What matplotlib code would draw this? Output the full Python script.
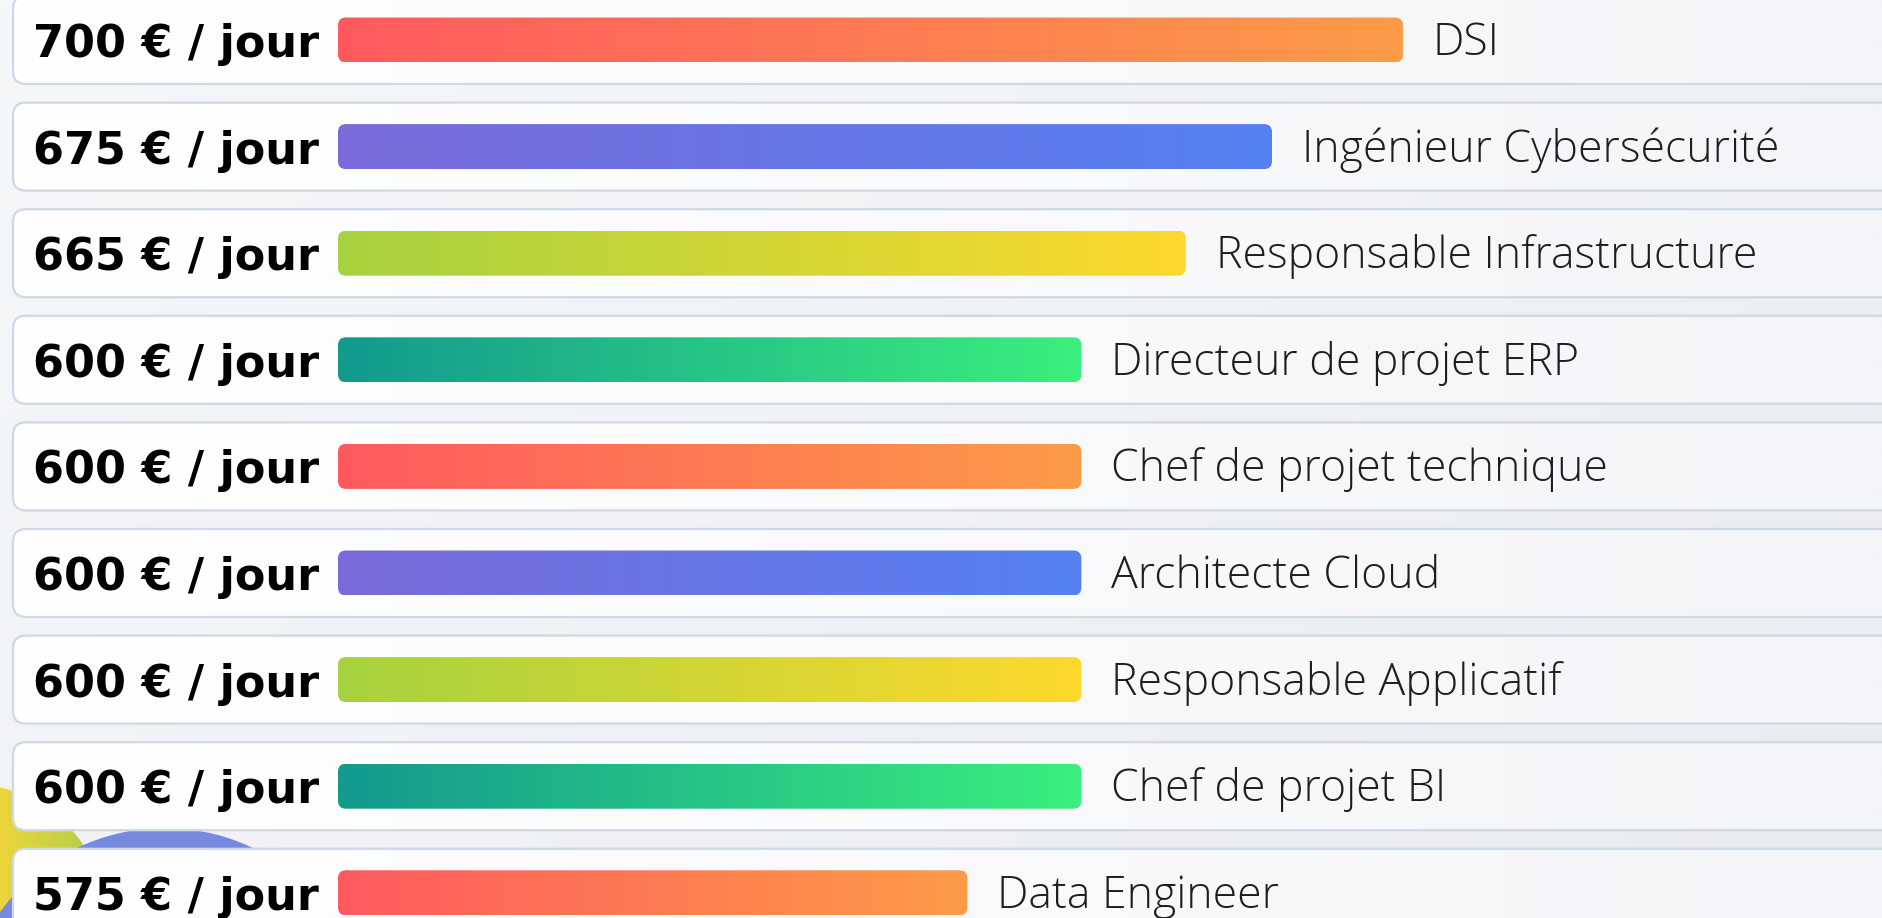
import numpy as np
import matplotlib
matplotlib.use("Agg")
import matplotlib.pyplot as plt
from matplotlib.patches import FancyBboxPatch, Circle
from matplotlib.colors import LinearSegmentedColormap

# data
rates = [700, 675, 665, 600, 600, 600, 600, 600, 575]
roles = ["DSI", "Ingénieur Cybersécurité", "Responsable Infrastructure",
         "Directeur de projet ERP", "Chef de projet technique", "Architecte Cloud",
         "Responsable Applicatif", "Chef de projet BI", "Data Engineer"]
bar_pct = [100, 87.7, 79.6, 69.8, 69.8, 69.8, 69.8, 69.8, 59.1]

gradients = [("#ff5a5f", "#fc9b47"),
             ("#7a6bdb", "#5581f0"),
             ("#a6d23e", "#fdd92c"),
             ("#129a8e", "#3bef7d")]

W, H = 1882, 918
pitch = 106.6
y0 = 40
card_x, card_h = 13, 88
bar_x, bar_h, full_len = 338, 45, 1065

fig = plt.figure(figsize=(W / 100, H / 100), dpi=100)
ax = fig.add_axes([0, 0, 1, 1])
ax.axis("off")

# background
bg = LinearSegmentedColormap.from_list("bg", ["#f6f7f9", "#e9ecf0"])
gx, gy = np.meshgrid(np.linspace(0, 1, 200), np.linspace(0, 1, 100))
ax.imshow(0.6 * gx + 0.4 * gy, cmap=bg, extent=[0, W, H, 0], aspect="auto", zorder=0)

# decorative blobs bottom-left
yel = Circle((-30, 920), 136, facecolor="none", edgecolor="none")
ax.add_patch(yel)
ycm = LinearSegmentedColormap.from_list("y", ["#f3d63a", "#b3cf4c"])
im = ax.imshow(gx, cmap=ycm, extent=[-10, 95, 1060, 780], aspect="auto", zorder=1)
im.set_clip_path(yel)
ax.add_patch(Circle((165, 1032), 204, facecolor="#7889e0", edgecolor="none", zorder=1.5))

card_cm = LinearSegmentedColormap.from_list("card", ["#ffffff", "#f4f5f8"])
for i, (rate, role, pct) in enumerate(zip(rates, roles, bar_pct)):
    cy = y0 + i * pitch

    card = FancyBboxPatch((card_x, cy - card_h / 2), W + 60, card_h,
                          boxstyle="round,pad=0,rounding_size=13",
                          facecolor="none", edgecolor="#cfd8e4", lw=1.6, zorder=2.5)
    ax.add_patch(card)
    cim = ax.imshow(gx, cmap=card_cm, extent=[card_x, W, cy + card_h / 2, cy - card_h / 2],
                    aspect="auto", zorder=2)
    cim.set_clip_path(card)

    blen = full_len * pct / 100
    bar = FancyBboxPatch((bar_x, cy - bar_h / 2), blen, bar_h,
                         boxstyle="round,pad=0,rounding_size=8",
                         facecolor="none", edgecolor="none", zorder=3)
    ax.add_patch(bar)
    cm = LinearSegmentedColormap.from_list("g%d" % i, gradients[i % 4])
    bim = ax.imshow(np.linspace(0, 1, 256)[None, :], cmap=cm,
                    extent=[bar_x, bar_x + blen, cy + bar_h / 2, cy - bar_h / 2],
                    aspect="auto", zorder=3)
    bim.set_clip_path(bar)

    ax.text(176, cy, "%d € / jour" % rate, ha="center", va="center_baseline",
            fontsize=32, fontweight="bold", color="black", family="DejaVu Sans", zorder=4)
    ax.text(bar_x + blen + 30, cy - 2, role, ha="left", va="center_baseline",
            fontsize=32, fontweight="light", color="#1e1e1e", family="Open Sans", zorder=4)

ax.set_xlim(0, W)
ax.set_ylim(H, 0)
fig.savefig("out.png", dpi=100)
